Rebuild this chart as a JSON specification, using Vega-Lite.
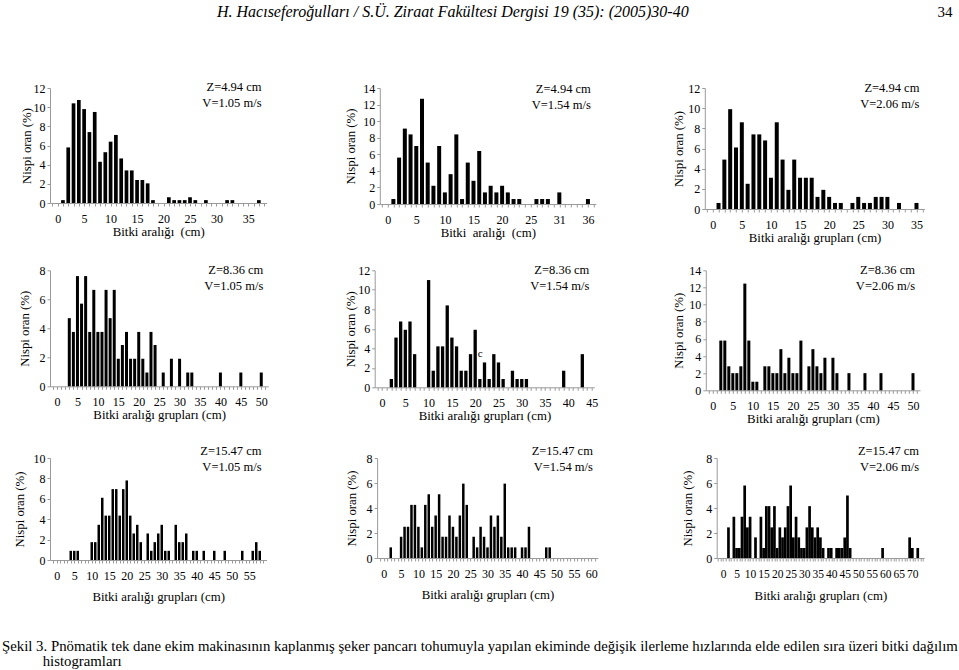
{
  "$schema": "https://vega.github.io/schema/vega-lite/v6.json",
  "background": "white",
  "padding": {"left": 2, "top": 4, "right": 0, "bottom": 2},
  "bounds": "flush",
  "spacing": 182.3,
  "title": {
    "text": ["Şekil 3. Pnömatik tek dane ekim makinasının kaplanmış şeker pancarı tohumuyla yapılan ekiminde değişik ilerleme hızlarında elde edilen sıra üzeri bitki dağılım", "\u200b\u00a0\u00a0\u00a0\u00a0\u00a0\u00a0\u00a0\u00a0\u00a0\u00a0\u00a0histogramları"],
    "orient": "bottom", "anchor": "start", "frame": "group", "dx": -48, "offset": 36,
    "fontSize": 14.8, "lineHeight": 14.5, "fontWeight": "normal", "font": "Liberation Serif", "color": "black"
  },
  "config": {
    "font": "Liberation Serif",
    "view": {"stroke": null},
    "axis": {
      "labelFont": "Liberation Serif", "titleFont": "Liberation Serif",
      "labelFontSize": 12, "titleFontSize": 12.8, "titleFontWeight": "normal",
      "labelColor": "black", "titleColor": "black",
      "domainColor": "#9a9a9a", "tickColor": "#9a9a9a", "tickSize": 3, "grid": false
    },
    "axisX": {"labelPadding": 7.5, "titlePadding": 1, "labelFlush": false, "labelOverlap": false, "labelAngle": 0, "labelBound": false},
    "axisY": {"labelPadding": 2, "titlePadding": 1, "labelOverlap": false, "labelFlush": false, "labelBound": false},
    "text": {"font": "Liberation Serif", "color": "black"},
    "title": {"font": "Liberation Serif", "color": "black", "fontWeight": "normal"}
  },
  "vconcat": [
    {
      "bounds": "flush",
      "spacing": 112.8,
      "hconcat": [
        {
          "width": 216.5, "height": 115,
          "layer": [
            {
              "data": {"values": [
                {"k":1,"p":0.3},{"k":2,"p":5.8},{"k":3,"p":10.4},{"k":4,"p":10.75},{"k":5,"p":9.8},{"k":6,"p":7.4},{"k":7,"p":9.5},{"k":8,"p":4.3},{"k":9,"p":5.3},{"k":10,"p":6.4},{"k":11,"p":7.1},{"k":12,"p":4.65},{"k":13,"p":3.4},{"k":14,"p":3.4},{"k":15,"p":2.4},{"k":16,"p":2.4},{"k":17,"p":2.05},{"k":18,"p":0.3},{"k":21,"p":0.6},{"k":22,"p":0.3},{"k":23,"p":0.3},{"k":24,"p":0.3},{"k":25,"p":0.6},{"k":26,"p":0.3},{"k":28,"p":0.3},{"k":32,"p":0.3},{"k":33,"p":0.3},{"k":38,"p":0.3}
              ]},
              "mark": {"type": "bar", "color": "black", "size": 3.7},
              "encoding": {
                "x": {"field": "k", "type": "quantitative", "scale": {"domain": [-0.5, 38.5], "nice": false, "zero": false},
                      "axis": {"tickCount": 39, "labelExpr": "datum.value == 36 ? '35' : (datum.value % 5 == 0 && datum.value <= 30 ? datum.label : '')", "title": "Bitki aralığı\u00a0 (cm)"}},
                "y": {"field": "p", "type": "quantitative", "scale": {"domain": [0, 12], "nice": false},
                      "axis": {"values": [0,2,4,6,8,10,12], "labelOverlap": false, "title": "Nispi oran (%)", "titlePadding": 0}}
              }
            },
            {
              "data": {"values": [{"note": "Z=4.94 cm\nV=1.05 m/s"}]},
              "mark": {"type": "text", "align": "right", "baseline": "top", "dy": -7, "fontSize": 12.5, "lineBreak": "\n", "lineHeight": 16},
              "encoding": {
                "x": {"datum": 38.5, "type": "quantitative", "axis": {"tickCount": 39, "labelExpr": "datum.value == 36 ? '35' : (datum.value % 5 == 0 && datum.value <= 30 ? datum.label : '')", "title": "Bitki aralığı\u00a0 (cm)"}},
                "y": {"datum": 12, "type": "quantitative", "axis": {"values": [0,2,4,6,8,10,12], "labelOverlap": false, "title": "Nispi oran (%)", "titlePadding": 0}},
                "text": {"field": "note"}}
            }
          ]
        },
        {
          "bounds": "flush",
          "spacing": 109,
          "hconcat": [
            {
              "width": 216, "height": 116,
              "title": {"text": "H. Hacıseferoğulları / S.Ü. Ziraat Fakültesi Dergisi 19 (35): (2005)30-40", "anchor": "middle", "frame": "group", "dx": -35, "offset": 62, "fontSize": 16, "fontStyle": "italic", "fontWeight": "normal"},
              "layer": [
                {
                  "data": {"values": [
                    {"k":1,"p":0.6},{"k":2,"p":5.6},{"k":3,"p":9.1},{"k":4,"p":8.4},{"k":5,"p":7.0},{"k":6,"p":12.7},{"k":7,"p":5.0},{"k":8,"p":2.2},{"k":9,"p":7.0},{"k":10,"p":1.4},{"k":11,"p":3.6},{"k":12,"p":8.4},{"k":13,"p":0.6},{"k":14,"p":5.0},{"k":15,"p":2.8},{"k":16,"p":6.4},{"k":17,"p":1.4},{"k":18,"p":2.2},{"k":19,"p":1.4},{"k":20,"p":2.2},{"k":21,"p":1.4},{"k":22,"p":0.6},{"k":23,"p":0.6},{"k":26,"p":0.6},{"k":27,"p":0.6},{"k":28,"p":0.6},{"k":30,"p":1.4},{"k":35,"p":0.6}
                  ]},
                  "mark": {"type": "bar", "color": "black", "size": 4},
                  "encoding": {
                    "x": {"field": "k", "type": "quantitative", "scale": {"domain": [-0.5, 35.5], "nice": false, "zero": false},
                          "axis": {"tickCount": 36, "labelExpr": "datum.value == 30 ? '31' : (datum.value == 35 ? '36' : (datum.value % 5 == 0 && datum.value < 30 ? datum.label : ''))", "title": "Bitki\u00a0 aralığı\u00a0 (cm)"}},
                    "y": {"field": "p", "type": "quantitative", "scale": {"domain": [0, 14], "nice": false},
                          "axis": {"values": [0,2,4,6,8,10,12,14], "labelOverlap": false, "title": "Nispi oran (%)", "titlePadding": 5}}
                  }
                },
                {
                  "data": {"values": [{"note": "Z=4.94 cm\nV=1.54 m/s"}]},
                  "mark": {"type": "text", "align": "right", "baseline": "top", "dy": -5, "fontSize": 12.5, "lineBreak": "\n", "lineHeight": 16},
                  "encoding": {
                    "x": {"datum": 35.5, "type": "quantitative", "axis": {"tickCount": 36, "labelExpr": "datum.value == 30 ? '31' : (datum.value == 35 ? '36' : (datum.value % 5 == 0 && datum.value < 30 ? datum.label : ''))", "title": "Bitki\u00a0 aralığı\u00a0 (cm)"}},
                    "y": {"datum": 14, "type": "quantitative", "axis": {"values": [0,2,4,6,8,10,12,14], "labelOverlap": false, "title": "Nispi oran (%)", "titlePadding": 5}},
                    "text": {"field": "note"}}
                }
              ]
            },
            {
              "width": 219.6, "height": 121,
              "title": {"text": "34", "anchor": "end", "frame": "group", "dx": 28, "offset": 62, "fontSize": 15, "fontWeight": "normal"},
              "layer": [
                {
                  "data": {"values": [
                    {"k":1,"p":0.6},{"k":2,"p":4.9},{"k":3,"p":9.9},{"k":4,"p":6.1},{"k":5,"p":8.6},{"k":6,"p":2.5},{"k":7,"p":7.4},{"k":8,"p":7.4},{"k":9,"p":6.8},{"k":10,"p":3.1},{"k":11,"p":8.6},{"k":12,"p":4.9},{"k":13,"p":1.9},{"k":14,"p":4.9},{"k":15,"p":3.1},{"k":16,"p":3.1},{"k":17,"p":3.1},{"k":18,"p":1.2},{"k":19,"p":1.9},{"k":20,"p":1.2},{"k":21,"p":0.6},{"k":22,"p":0.6},{"k":24,"p":0.6},{"k":25,"p":1.2},{"k":26,"p":0.6},{"k":27,"p":0.6},{"k":28,"p":1.2},{"k":29,"p":1.2},{"k":30,"p":1.2},{"k":32,"p":0.6},{"k":35,"p":0.6}
                  ]},
                  "mark": {"type": "bar", "color": "black", "size": 4},
                  "encoding": {
                    "x": {"field": "k", "type": "quantitative", "scale": {"domain": [-0.5, 35.5], "nice": false, "zero": false},
                          "axis": {"tickCount": 36, "labelExpr": "datum.value % 5 == 0 ? datum.label : ''", "title": "Bitki aralığı grupları (cm)", "titlePadding": 1}},
                    "y": {"field": "p", "type": "quantitative", "scale": {"domain": [0, 12], "nice": false},
                          "axis": {"values": [0,2,4,6,8,10,12], "labelOverlap": false, "title": "Nispi oran (%)", "titlePadding": 2}}
                  }
                },
                {
                  "data": {"values": [{"note": "Z=4.94 cm\nV=2.06 m/s"}]},
                  "mark": {"type": "text", "align": "right", "baseline": "top", "dy": -6, "fontSize": 12.5, "lineBreak": "\n", "lineHeight": 16},
                  "encoding": {
                    "x": {"datum": 35.5, "type": "quantitative", "axis": {"tickCount": 36, "labelExpr": "datum.value % 5 == 0 ? datum.label : ''", "title": "Bitki aralığı grupları (cm)", "titlePadding": 1}},
                    "y": {"datum": 12, "type": "quantitative", "axis": {"values": [0,2,4,6,8,10,12], "labelOverlap": false, "title": "Nispi oran (%)", "titlePadding": 2}},
                    "text": {"field": "note"}}
                }
              ]
            }
          ]
        }
      ]
    },
    {
      "bounds": "flush",
      "spacing": 187.7,
      "vconcat": [
        {
          "bounds": "flush",
          "spacing": 105.7,
          "hconcat": [
            {
              "width": 218.3, "height": 116,
              "layer": [
                {
                  "data": {"values": [
                    {"k":3,"p":4.7},{"k":4,"p":3.75},{"k":5,"p":7.6},{"k":6,"p":5.7},{"k":7,"p":7.6},{"k":8,"p":3.75},{"k":9,"p":6.65},{"k":10,"p":3.75},{"k":11,"p":3.75},{"k":12,"p":6.65},{"k":13,"p":4.7},{"k":14,"p":6.65},{"k":15,"p":1.9},{"k":16,"p":2.85},{"k":17,"p":3.75},{"k":18,"p":1.9},{"k":19,"p":1.9},{"k":20,"p":3.75},{"k":21,"p":1.9},{"k":22,"p":0.95},{"k":23,"p":3.75},{"k":24,"p":2.85},{"k":26,"p":0.95},{"k":28,"p":1.9},{"k":30,"p":1.9},{"k":32,"p":0.95},{"k":33,"p":0.95},{"k":40,"p":0.95},{"k":45,"p":0.95},{"k":50,"p":0.95}
                  ]},
                  "mark": {"type": "bar", "color": "black", "size": 3},
                  "encoding": {
                    "x": {"field": "k", "type": "quantitative", "scale": {"domain": [-0.5, 50.5], "nice": false, "zero": false},
                          "axis": {"tickCount": 51, "labelExpr": "datum.value % 5 == 0 ? datum.label : ''", "title": "Bitki aralığı grupları (cm)"}},
                    "y": {"field": "p", "type": "quantitative", "scale": {"domain": [0, 8], "nice": false},
                          "axis": {"values": [0,2,4,6,8], "labelOverlap": false, "title": "Nispi oran (%)", "titlePadding": 8}}
                  }
                },
                {
                  "data": {"values": [{"note": "Z=8.36 cm\nV=1.05 m/s"}]},
                  "mark": {"type": "text", "align": "right", "baseline": "top", "dy": -6, "fontSize": 12.5, "lineBreak": "\n", "lineHeight": 16},
                  "encoding": {
                    "x": {"datum": 50.5, "type": "quantitative", "axis": {"tickCount": 51, "labelExpr": "datum.value % 5 == 0 ? datum.label : ''", "title": "Bitki aralığı grupları (cm)"}},
                    "y": {"datum": 8, "type": "quantitative", "axis": {"values": [0,2,4,6,8], "labelOverlap": false, "title": "Nispi oran (%)", "titlePadding": 8}},
                    "text": {"field": "note"}}
                }
              ]
            },
            {
              "bounds": "flush",
              "spacing": 111.1,
              "hconcat": [
                {
                  "width": 219.6, "height": 117,
                  "layer": [
                    {
                      "data": {"values": [
                        {"k":2,"p":0.85},{"k":3,"p":5.1},{"k":4,"p":6.75},{"k":5,"p":5.9},{"k":6,"p":6.75},{"k":7,"p":3.4},{"k":10,"p":11.0},{"k":11,"p":1.7},{"k":12,"p":4.2},{"k":13,"p":4.2},{"k":14,"p":8.4},{"k":15,"p":5.1},{"k":16,"p":4.2},{"k":17,"p":1.7},{"k":18,"p":1.7},{"k":19,"p":3.4},{"k":20,"p":5.9},{"k":21,"p":0.85},{"k":22,"p":2.55},{"k":23,"p":0.85},{"k":24,"p":3.4},{"k":25,"p":2.55},{"k":26,"p":0.85},{"k":28,"p":1.7},{"k":29,"p":0.85},{"k":30,"p":0.85},{"k":31,"p":0.85},{"k":39,"p":1.7},{"k":43,"p":3.4}
                      ]},
                      "mark": {"type": "bar", "color": "black", "size": 3.3},
                      "encoding": {
                        "x": {"field": "k", "type": "quantitative", "scale": {"domain": [-0.5, 44.5], "nice": false, "zero": false},
                              "axis": {"tickCount": 45, "labelExpr": "datum.value % 5 == 0 ? datum.label : ''", "title": "Bitki aralığı grupları (cm)"}},
                        "y": {"field": "p", "type": "quantitative", "scale": {"domain": [0, 12], "nice": false},
                              "axis": {"values": [0,2,4,6,8,10,12], "labelOverlap": false, "title": "Nispi oran (%)", "titlePadding": 0}}
                      }
                    },
                    {
                      "data": {"values": [{"k": 21.1, "p": 3.4, "t": "c"}]},
                      "mark": {"type": "text", "align": "center", "baseline": "middle", "fontSize": 11},
                      "encoding": {
                        "x": {"field": "k", "type": "quantitative", "axis": {"tickCount": 45, "labelExpr": "datum.value % 5 == 0 ? datum.label : ''", "title": "Bitki aralığı grupları (cm)"}},
                        "y": {"field": "p", "type": "quantitative", "axis": {"values": [0,2,4,6,8,10,12], "labelOverlap": false, "title": "Nispi oran (%)", "titlePadding": 0}},
                        "text": {"field": "t"}}
                    },
                    {
                      "data": {"values": [{"note": "Z=8.36 cm\nV=1.54 m/s"}]},
                      "mark": {"type": "text", "align": "right", "baseline": "top", "dy": -6, "fontSize": 12.5, "lineBreak": "\n", "lineHeight": 16},
                      "encoding": {
                        "x": {"datum": 44.5, "type": "quantitative", "axis": {"tickCount": 45, "labelExpr": "datum.value % 5 == 0 ? datum.label : ''", "title": "Bitki aralığı grupları (cm)"}},
                        "y": {"datum": 12, "type": "quantitative", "axis": {"values": [0,2,4,6,8,10,12], "labelOverlap": false, "title": "Nispi oran (%)", "titlePadding": 0}},
                        "text": {"field": "note"}}
                    }
                  ]
                },
                {
                  "width": 214.2, "height": 120,
                  "layer": [
                    {
                      "data": {"values": [
                        {"k":2,"p":5.8},{"k":3,"p":5.8},{"k":4,"p":2.8},{"k":5,"p":2.0},{"k":6,"p":2.0},{"k":7,"p":2.8},{"k":8,"p":12.45},{"k":9,"p":5.8},{"k":10,"p":1.0},{"k":11,"p":1.0},{"k":13,"p":2.8},{"k":14,"p":2.8},{"k":15,"p":2.0},{"k":16,"p":2.0},{"k":17,"p":4.8},{"k":18,"p":2.0},{"k":19,"p":3.8},{"k":20,"p":2.0},{"k":21,"p":2.0},{"k":22,"p":5.8},{"k":24,"p":2.8},{"k":25,"p":4.8},{"k":26,"p":2.8},{"k":27,"p":2.0},{"k":28,"p":3.8},{"k":30,"p":3.8},{"k":31,"p":2.0},{"k":34,"p":2.0},{"k":38,"p":2.0},{"k":42,"p":2.0},{"k":50,"p":2.0}
                      ]},
                      "mark": {"type": "bar", "color": "black", "size": 3},
                      "encoding": {
                        "x": {"field": "k", "type": "quantitative", "scale": {"domain": [-0.5, 50.5], "nice": false, "zero": false},
                              "axis": {"tickCount": 51, "labelExpr": "datum.value % 5 == 0 ? datum.label : ''", "title": "Bitki aralığı grupları (cm)", "titlePadding": 1}},
                        "y": {"field": "p", "type": "quantitative", "scale": {"domain": [0, 14], "nice": false},
                              "axis": {"values": [0,2,4,6,8,10,12,14], "labelOverlap": false, "title": "Nispi oran (%)", "titlePadding": 3}}
                      }
                    },
                    {
                      "data": {"values": [{"note": "Z=8.36 cm\nV=2.06 m/s"}]},
                      "mark": {"type": "text", "align": "right", "baseline": "top", "dy": -6, "fontSize": 12.5, "lineBreak": "\n", "lineHeight": 16},
                      "encoding": {
                        "x": {"datum": 50.5, "type": "quantitative", "axis": {"tickCount": 51, "labelExpr": "datum.value % 5 == 0 ? datum.label : ''", "title": "Bitki aralığı grupları (cm)", "titlePadding": 1}},
                        "y": {"datum": 14, "type": "quantitative", "axis": {"values": [0,2,4,6,8,10,12,14], "labelOverlap": false, "title": "Nispi oran (%)", "titlePadding": 3}},
                        "text": {"field": "note"}}
                    }
                  ]
                }
              ]
            }
          ]
        },
        {
          "bounds": "flush",
          "spacing": 110.1,
          "hconcat": [
            {
              "width": 216.5, "height": 102,
              "layer": [
                {
                  "data": {"values": [
                    {"k":4,"p":0.9},{"k":5,"p":0.9},{"k":6,"p":0.9},{"k":10,"p":1.75},{"k":11,"p":1.75},{"k":12,"p":3.45},{"k":13,"p":6.1},{"k":14,"p":4.35},{"k":15,"p":4.35},{"k":16,"p":6.95},{"k":17,"p":6.95},{"k":18,"p":4.35},{"k":19,"p":6.95},{"k":20,"p":7.8},{"k":21,"p":4.35},{"k":22,"p":2.6},{"k":23,"p":3.45},{"k":24,"p":1.75},{"k":26,"p":2.6},{"k":27,"p":0.9},{"k":28,"p":1.75},{"k":29,"p":2.6},{"k":30,"p":3.45},{"k":31,"p":0.9},{"k":32,"p":0.9},{"k":34,"p":3.45},{"k":35,"p":1.75},{"k":36,"p":1.75},{"k":37,"p":2.6},{"k":39,"p":0.9},{"k":40,"p":0.9},{"k":42,"p":0.9},{"k":45,"p":0.9},{"k":48,"p":0.9},{"k":53,"p":0.9},{"k":56,"p":0.9},{"k":57,"p":1.75},{"k":58,"p":0.9}
                  ]},
                  "mark": {"type": "bar", "color": "black", "size": 2.5},
                  "encoding": {
                    "x": {"field": "k", "type": "quantitative", "scale": {"domain": [-0.5, 58.5], "nice": false, "zero": false},
                          "axis": {"tickCount": 59, "labelExpr": "datum.value % 5 == 0 ? datum.label : ''", "title": "Bitki aralığı grupları (cm)", "titlePadding": 9}},
                    "y": {"field": "p", "type": "quantitative", "scale": {"domain": [0, 10], "nice": false},
                          "axis": {"values": [0,2,4,6,8,10], "labelOverlap": false, "title": "Nispi oran (%)", "titlePadding": 7}}
                  }
                },
                {
                  "data": {"values": [{"note": "Z=15.47 cm\nV=1.05 m/s"}]},
                  "mark": {"type": "text", "align": "right", "baseline": "top", "dy": -13.5, "fontSize": 12.5, "lineBreak": "\n", "lineHeight": 16},
                  "encoding": {
                    "x": {"datum": 58.5, "type": "quantitative", "axis": {"tickCount": 59, "labelExpr": "datum.value % 5 == 0 ? datum.label : ''", "title": "Bitki aralığı grupları (cm)", "titlePadding": 9}},
                    "y": {"datum": 10, "type": "quantitative", "axis": {"values": [0,2,4,6,8,10], "labelOverlap": false, "title": "Nispi oran (%)", "titlePadding": 7}},
                    "text": {"field": "note"}}
                }
              ]
            },
            {
              "bounds": "flush",
              "spacing": 118.6,
              "hconcat": [
                {
                  "width": 220.8, "height": 100,
                  "layer": [
                    {
                      "data": {"values": [
                        {"k":2,"p":0.85},{"k":5,"p":1.7},{"k":6,"p":2.5},{"k":7,"p":2.5},{"k":8,"p":4.25},{"k":9,"p":4.25},{"k":10,"p":2.5},{"k":11,"p":0.85},{"k":12,"p":4.25},{"k":13,"p":5.1},{"k":14,"p":2.5},{"k":15,"p":3.4},{"k":16,"p":5.1},{"k":17,"p":1.7},{"k":18,"p":1.7},{"k":19,"p":3.4},{"k":20,"p":2.5},{"k":21,"p":1.7},{"k":22,"p":3.4},{"k":23,"p":5.95},{"k":24,"p":4.25},{"k":26,"p":1.7},{"k":27,"p":0.85},{"k":28,"p":2.5},{"k":29,"p":1.7},{"k":30,"p":0.85},{"k":31,"p":3.4},{"k":32,"p":2.5},{"k":33,"p":3.4},{"k":34,"p":1.7},{"k":35,"p":5.95},{"k":36,"p":0.85},{"k":37,"p":0.85},{"k":38,"p":0.85},{"k":40,"p":0.85},{"k":41,"p":0.85},{"k":42,"p":2.5},{"k":47,"p":0.85},{"k":48,"p":0.85}
                      ]},
                      "mark": {"type": "bar", "color": "black", "size": 2.5},
                      "encoding": {
                        "x": {"field": "k", "type": "quantitative", "scale": {"domain": [-0.5, 60.5], "nice": false, "zero": false},
                              "axis": {"tickCount": 61, "labelExpr": "datum.value % 5 == 0 ? datum.label : ''", "title": "Bitki aralığı grupları (cm)", "titlePadding": 9}},
                        "y": {"field": "p", "type": "quantitative", "scale": {"domain": [0, 8], "nice": false},
                              "axis": {"values": [0,2,4,6,8], "labelOverlap": false, "title": "Nispi oran (%)", "titlePadding": 8}}
                      }
                    },
                    {
                      "data": {"values": [{"note": "Z=15.47 cm\nV=1.54 m/s"}]},
                      "mark": {"type": "text", "align": "right", "baseline": "top", "dy": -13.5, "fontSize": 12.5, "lineBreak": "\n", "lineHeight": 16},
                      "encoding": {
                        "x": {"datum": 60.5, "type": "quantitative", "axis": {"tickCount": 61, "labelExpr": "datum.value % 5 == 0 ? datum.label : ''", "title": "Bitki aralığı grupları (cm)", "titlePadding": 9}},
                        "y": {"datum": 8, "type": "quantitative", "axis": {"values": [0,2,4,6,8], "labelOverlap": false, "title": "Nispi oran (%)", "titlePadding": 8}},
                        "text": {"field": "note"}}
                    }
                  ]
                },
                {
                  "width": 207.4, "height": 100,
                  "layer": [
                    {
                      "data": {"values": [
                        {"k":2,"p":2.45},{"k":4,"p":3.3},{"k":5,"p":0.8},{"k":6,"p":0.8},{"k":7,"p":3.3},{"k":8,"p":5.8},{"k":9,"p":2.45},{"k":10,"p":3.3},{"k":12,"p":1.65},{"k":14,"p":3.3},{"k":15,"p":0.8},{"k":16,"p":4.15},{"k":17,"p":4.15},{"k":18,"p":2.45},{"k":19,"p":4.15},{"k":20,"p":0.8},{"k":21,"p":2.45},{"k":22,"p":1.65},{"k":23,"p":2.45},{"k":24,"p":4.15},{"k":25,"p":5.8},{"k":26,"p":1.65},{"k":27,"p":3.3},{"k":28,"p":1.65},{"k":29,"p":0.8},{"k":30,"p":0.8},{"k":31,"p":2.45},{"k":32,"p":4.15},{"k":33,"p":2.45},{"k":34,"p":1.65},{"k":35,"p":2.45},{"k":36,"p":1.65},{"k":37,"p":0.8},{"k":39,"p":0.8},{"k":40,"p":0.8},{"k":42,"p":0.8},{"k":43,"p":0.8},{"k":44,"p":0.8},{"k":45,"p":1.65},{"k":46,"p":5.0},{"k":47,"p":0.8},{"k":59,"p":0.8},{"k":69,"p":1.65},{"k":70,"p":0.8},{"k":72,"p":0.8}
                      ]},
                      "mark": {"type": "bar", "color": "black", "size": 2.7},
                      "encoding": {
                        "x": {"field": "k", "type": "quantitative", "scale": {"domain": [-0.5, 72.5], "nice": false, "zero": false},
                              "axis": {"tickCount": 73, "labelExpr": "datum.value % 5 == 0 ? datum.label : ''", "labelFontSize": 11.5, "title": "Bitki aralığı grupları (cm)", "titlePadding": 9}},
                        "y": {"field": "p", "type": "quantitative", "scale": {"domain": [0, 8], "nice": false},
                              "axis": {"values": [0,2,4,6,8], "labelOverlap": false, "title": "Nispi oran (%)", "titlePadding": 11}}
                      }
                    },
                    {
                      "data": {"values": [{"note": "Z=15.47 cm\nV=2.06 m/s"}]},
                      "mark": {"type": "text", "align": "right", "baseline": "top", "dy": -13.5, "fontSize": 12.5, "lineBreak": "\n", "lineHeight": 16},
                      "encoding": {
                        "x": {"datum": 72.5, "type": "quantitative", "axis": {"tickCount": 73, "labelExpr": "datum.value % 5 == 0 ? datum.label : ''", "labelFontSize": 11.5, "title": "Bitki aralığı grupları (cm)", "titlePadding": 9}},
                        "y": {"datum": 8, "type": "quantitative", "axis": {"values": [0,2,4,6,8], "labelOverlap": false, "title": "Nispi oran (%)", "titlePadding": 11}},
                        "text": {"field": "note"}}
                    }
                  ]
                }
              ]
            }
          ]
        }
      ]
    }
  ]
}
